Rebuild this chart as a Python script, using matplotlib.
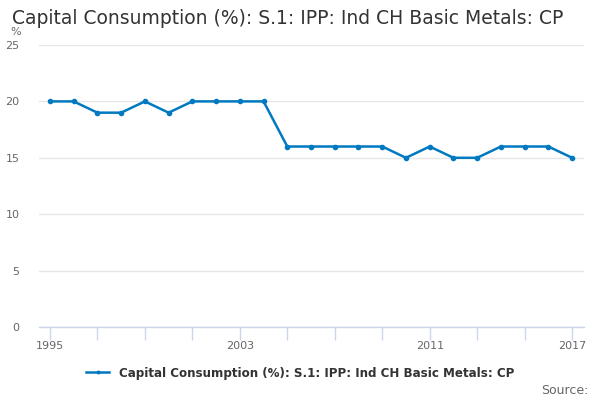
import matplotlib.pyplot as plt
import numpy as np

# data
years = list(range(1995, 2018))
values = [20, 20, 19, 19, 20, 19, 20, 20, 20, 20, 16, 16, 16, 16, 16,
          15, 16, 15, 15, 16, 16, 16, 15]
tick_years = list(range(1995, 2018, 2))
label_years = [1995, 2003, 2011, 2017]
y_ticks = [0, 5, 10, 15, 20, 25]

series_name = "Capital Consumption (%): S.1: IPP: Ind CH Basic Metals: CP"
line_color = "#0079c1"

fig = plt.figure(figsize=(6, 4), dpi=100)
ax = fig.add_axes([39 / 600, 1 - 327 / 400, (584 - 39) / 600, (327 - 45) / 400])

ax.plot(years, values, color=line_color, linewidth=1.8, marker="o",
        markersize=3, label=series_name)

ax.set_xlim(1994.54, 2017.5)
ax.set_ylim(0, 25)

ax.set_yticks(y_ticks)
ax.set_yticklabels([str(v) for v in y_ticks])
ax.set_xticks(tick_years)
ax.set_xticklabels([str(y) if y in label_years else "" for y in tick_years])

ax.grid(axis="y", color="#e6e6e6", linewidth=1)
ax.set_axisbelow(True)
for side in ["top", "right", "left"]:
    ax.spines[side].set_visible(False)
ax.spines["bottom"].set_color("#ccd6eb")
ax.spines["bottom"].set_linewidth(1)

ax.tick_params(axis="y", length=0, labelsize=8, labelcolor="#666666", pad=14)
ax.tick_params(axis="x", length=9, color="#ccd6eb", width=1, labelsize=8,
               labelcolor="#666666", pad=1)

fig.text(12 / 600, 1 - 18 / 400, "Capital Consumption (%): S.1: IPP: Ind CH Basic Metals: CP",
         fontsize=13.5, color="#333333", va="center", ha="left")
fig.text(10 / 600, 1 - 32 / 400, "%", fontsize=8, color="#666666", va="center")

leg = fig.legend(loc="center", bbox_to_anchor=(300 / 600, 1 - 373 / 400),
                 frameon=False, prop={"weight": "bold", "size": 8.6},
                 handlelength=2, markerscale=0.6)
for t in leg.get_texts():
    t.set_color("#333333")

fig.text(589 / 600, 1 - 390 / 400, "Source:", fontsize=9, color="#666666",
         ha="right", va="center")

fig.savefig("out.png", dpi=100)
